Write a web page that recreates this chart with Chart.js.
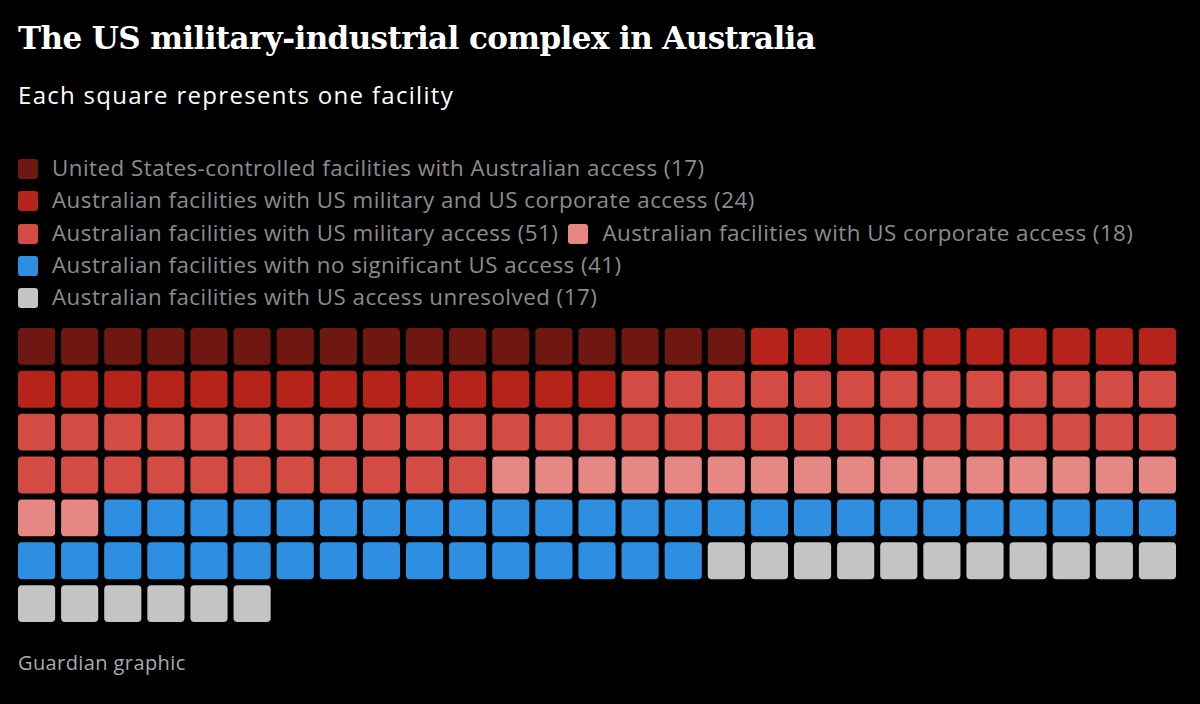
<!DOCTYPE html>
<html><head><meta charset="utf-8">
<script src="https://cdn.jsdelivr.net/npm/chart.js@4"></script>
<style>
body{margin:0;background:#000;width:1200px;height:704px;overflow:hidden;font-family:"Open Sans","Noto Sans",sans-serif;position:relative}
#title{position:absolute;left:18px;top:20px;color:#fff;font:bold 31px "DejaVu Serif",serif;letter-spacing:-0.6px}
#sub{position:absolute;left:18px;top:78px;color:#fff;font-size:24px;letter-spacing:1.3px}
#legend{position:absolute;left:18px;top:152px;color:#8c8c8c;font-size:22.3px;line-height:32.3px;letter-spacing:0.5px}
.it{display:inline-block;margin-right:10px}
.sw{display:inline-block;width:20px;height:20px;border-radius:3px;margin-right:14px;vertical-align:-3px}
#src{position:absolute;left:18px;top:649px;color:#aaa;font-size:20px;letter-spacing:0.4px}
#wrap{position:absolute;left:15px;top:325px;width:1164px;height:300px}
</style></head><body>
<div id="title">The US military-industrial complex in Australia</div>
<div id="sub">Each square represents one facility</div>
<div id="legend"></div>
<div id="wrap"><canvas id="c"></canvas></div>
<div id="src">Guardian graphic</div>
<script>
const categories=["United States-controlled facilities with Australian access","Australian facilities with US military and US corporate access","Australian facilities with US military access","Australian facilities with US corporate access","Australian facilities with no significant US access","Australian facilities with US access unresolved"];
const counts=[17,24,51,18,41,17];
const colors=["#6e1811","#b5231a","#d44b44","#e68784","#2e8fe2","#c4c4c4"];
const columns=27;
const legendRows=[[0],[1],[2,3],[4],[5]];

const lg=document.getElementById('legend');
legendRows.forEach(r=>{const d=document.createElement('div');
 r.forEach(i=>{d.innerHTML+=`<span class="it"><span class="sw" style="background:${colors[i]}"></span>${categories[i]} (${counts[i]})</span>`;});
 lg.appendChild(d);});

const cells=[];counts.forEach((n,i)=>{for(let k=0;k<n;k++)cells.push(i);});
const rows=Math.ceil(cells.length/columns);
const labels=Array.from({length:columns},(_,i)=>String(i));
const datasets=[];
for(let r=0;r<rows;r++){
 const data=[],bg=[];
 for(let c=0;c<columns;c++){const idx=r*columns+c;
  if(idx<cells.length){data.push([r-0.43,r+0.43]);bg.push(colors[cells[idx]]);}else{data.push(null);bg.push('transparent');}}
 datasets.push({data,backgroundColor:bg,borderRadius:4,borderSkipped:false,grouped:false,barPercentage:0.862,categoryPercentage:1});
}
new Chart(document.getElementById('c'),{type:'bar',data:{labels,datasets},
options:{responsive:true,maintainAspectRatio:false,animation:false,
layout:{padding:0},
plugins:{legend:{display:false},tooltip:{enabled:false}},
scales:{x:{display:false},y:{display:false,min:-0.5,max:6.5,reverse:true}}}});
</script></body></html>
